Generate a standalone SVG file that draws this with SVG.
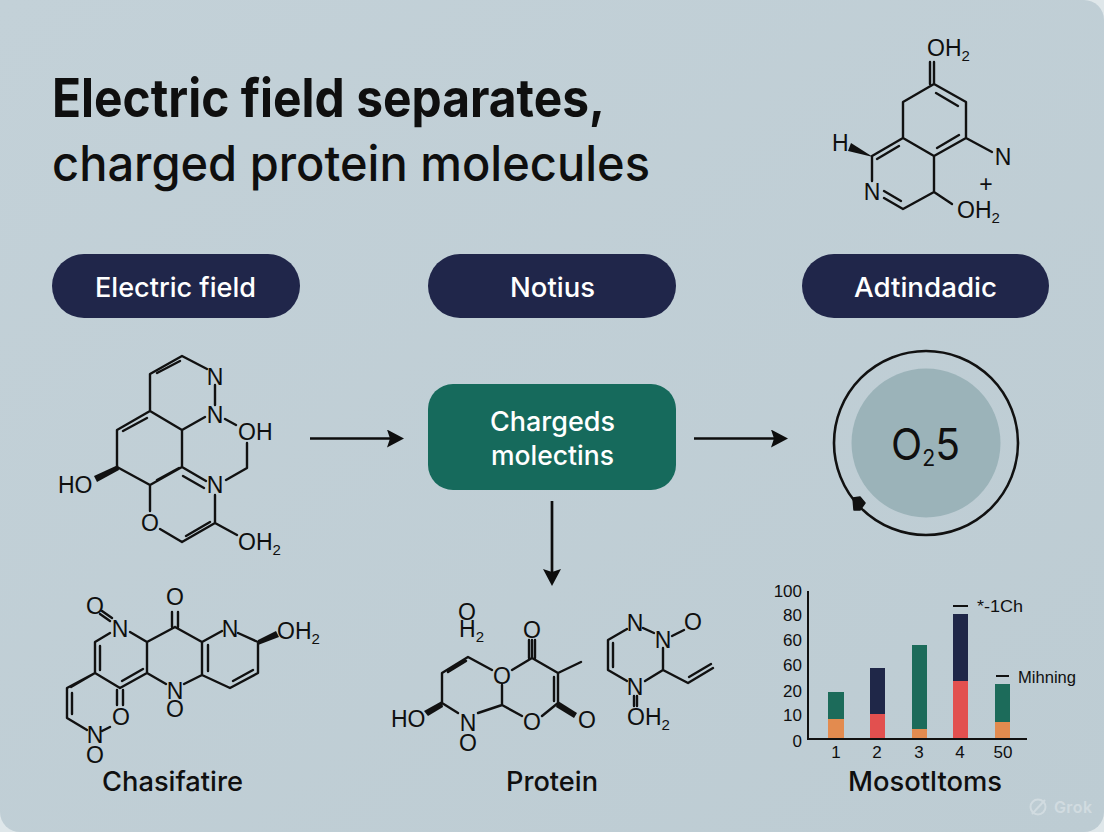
<svg xmlns="http://www.w3.org/2000/svg" width="1104" height="832" viewBox="0 0 1104 832">
<defs>
<linearGradient id="bg" x1="0" y1="0" x2="1" y2="1"><stop offset="0" stop-color="#c3d1d8"/><stop offset="1" stop-color="#bdccd3"/></linearGradient>
<marker id="arr" markerUnits="userSpaceOnUse" markerWidth="20" markerHeight="20" refX="13" refY="9" orient="auto"><path d="M0 0L17 9L0 18L3 9Z" fill="#0d0d0d"/></marker>
</defs>
<style>
text{font-family:Inter,"Liberation Sans",sans-serif;fill:#0f0f0f}
.b{fill:none;stroke:#111;stroke-width:2.4;stroke-linecap:round;stroke-linejoin:round}
.c{fill:none;stroke:#0d0d0d;stroke-width:2.7}
.a{font-family:"Liberation Sans",Arial,sans-serif;font-size:23px}
.m{text-anchor:middle}
.w{fill:#111;stroke:none}
.cap{font-size:27px;font-weight:450}
.pill{fill:#20264a}
.pt{fill:#fff;font-size:27px;font-weight:450}
.t{font-size:17px;font-family:"Liberation Sans",Arial,sans-serif}
.n{font-size:17px;font-family:"Liberation Sans",Arial,sans-serif;text-anchor:end}
.l{stroke:#111;stroke-width:2;fill:none}
</style>
<rect width="1104" height="832" fill="#dfe7ea"/>
<path d="M0 0H1084A20 20 0 0 1 1104 20V812A20 20 0 0 1 1084 832H20A20 20 0 0 1 0 812Z" fill="url(#bg)"/>
<g id="title"><text x="52" y="117" font-size="53" font-weight="700" textLength="553" lengthAdjust="spacingAndGlyphs">Electric field separates,</text><text x="52" y="181" font-size="49" font-weight="500" textLength="598" lengthAdjust="spacingAndGlyphs">charged protein molecules</text></g>
<g id="pill-electric"><rect class="pill" x="52" y="254" width="248" height="64" rx="32"/><text class="pt" x="95" y="297" textLength="161" lengthAdjust="spacingAndGlyphs">Electric field</text></g>
<g id="pill-notius"><rect class="pill" x="428" y="254" width="248" height="64" rx="32"/><text class="pt" x="510" y="297" textLength="85" lengthAdjust="spacingAndGlyphs">Notius</text></g>
<g id="pill-adtindadic"><rect class="pill" x="802" y="254" width="247" height="64" rx="32"/><text class="pt" x="854" y="297" textLength="143" lengthAdjust="spacingAndGlyphs">Adtindadic</text></g>
<g id="charged"><rect x="428" y="384" width="248" height="106" rx="25" fill="#166a5c"/><text class="pt" x="490" y="431" textLength="125" lengthAdjust="spacingAndGlyphs">Chargeds</text><text class="pt" x="491" y="465" textLength="123" lengthAdjust="spacingAndGlyphs">molectins</text></g>
<g id="connectors">
<path class="c" d="M310 438.500H400" marker-end="url(#arr)"/>
<path class="c" d="M694 438.500H784" marker-end="url(#arr)"/>
<path class="c" d="M552 501V582" marker-end="url(#arr)"/>
</g>
<g id="ring"><circle cx="926" cy="443" r="74.500" fill="#9bb3b9"/><circle cx="926" cy="443" r="92" fill="none" stroke="#111" stroke-width="2.600"/><path class="w" stroke-linejoin="round" d="M853 498L860 497L865 503L860 510L854 510Z" style="stroke:#111;stroke-width:1.500"/><text x="891" y="460" font-size="44" textLength="69" lengthAdjust="spacingAndGlyphs">O<tspan font-size="23" dy="6">2</tspan><tspan dy="-6">5</tspan></text></g>
<g id="mol-top">
<path class="b" d="M934 62V84M930 62V84M934 84L966 102V138L934 156V192L903 209L884 198M934 84L903 102V138L934 156M903 138L872 156V181M934 192L952 204M966 138L992 152M936 93L958 106M959 135L937 148M899 146L877 159M901 201L884 191"/>
<path class="w" d="M873 157L851 143L848 151Z"/>
<text class="a" x="927" y="56">OH<tspan font-size="15" dy="5">2</tspan></text>
<text class="a" x="832" y="151">H</text><text class="a m" x="872" y="200">N</text><text class="a m" x="1003" y="165">N</text><text class="a m" x="986" y="192" font-size="18">+</text>
<text class="a" x="957" y="218">OH<tspan font-size="15" dy="5">2</tspan></text>
</g>
<g id="mol-left">
<path class="b" d="M207 369L182 356L150 374V411L117 430V467L150 485L182 467V430L150 411M182 430L205 417M215 385V405M225 419L236 425M247 443V468L226 480M182 467L206 481M150 485V511M160 529L182 542L215 523V495M215 523L237 535M157 373L180 361M123 431L147 418M157 480L179 468M183 476L204 488M186 536L210 522"/>
<path class="w" d="M118 465L94 476L97 482L119 470Z"/>
<text class="a m" x="215" y="385">N</text><text class="a m" x="215" y="423">N</text><text class="a" x="238" y="440">OH</text><text class="a" x="58" y="493">HO</text><text class="a m" x="215" y="493">N</text><text class="a m" x="150" y="531">O</text>
<text class="a" x="238" y="550">OH<tspan font-size="15" dy="5">2</tspan></text>
</g>
<g id="mol-lower-left">
<path class="b" d="M102 611L112 618M100 614L110 621M172 612V627M178 612V627M175 627L147 642L130 632M110 633L95 642V673L67 688V718L87 730M100 646V670M147 642V673L120 688L95 673M147 673L166 684M184 684L202 675V642L175 627M202 642L222 631M238 633L258 642V673L230 688L202 675M208 645V671M233 681L253 670M143 669L122 681M95 673L71 687M72 693V714M117 690V705M123 690V705M110 727L102 731"/>
<path class="w" d="M258 640L276 631L279 637L258 645Z"/>
<text class="a m" x="95" y="614">O</text><text class="a m" x="120" y="637">N</text><text class="a m" x="175" y="605">O</text><text class="a m" x="230" y="637">N</text>
<text class="a" x="277" y="639">OH<tspan font-size="15" dy="5">2</tspan></text>
<text class="a m" x="175" y="699">N</text><text class="a m" x="175" y="717">O</text><text class="a m" x="121" y="725">O</text><text class="a m" x="95" y="743">N</text><text class="a m" x="95" y="763">O</text>
</g>
<g id="mol-center-a">
<path class="b" d="M492 670L468 657L442 673V703L458 713M478 713L502 705L522 716M502 685V705M542 716L558 703V673L532 658L512 670M532 640V658M529 640V658M535 640V658M558 673L581 662M554 677V701M448 672L466 661"/>
<path class="w" d="M442 701L424 711L428 716L443 707Z"/><path class="w" d="M558 701L577 713L574 718L556 707Z"/>
<text class="a m" x="467" y="620">O</text><text class="a" x="459" y="637">H<tspan font-size="15" dy="5">2</tspan></text><text class="a m" x="532" y="638">O</text><text class="a m" x="502" y="684">O</text><text class="a" x="391" y="727">HO</text><text class="a m" x="468" y="731">N</text><text class="a m" x="532" y="730">O</text><text class="a m" x="587" y="728">O</text><text class="a m" x="468" y="751">O</text>
</g>
<g id="mol-center-b">
<path class="b" d="M627 629L608 640V670L627 681M643 628L654 633M672 636L684 630M663 648V670L645 681M663 670L688 683L713 668M689 677L711 664M613 643V667M634 696V706M637 696V706"/>
<text class="a m" x="635" y="631">N</text><text class="a m" x="663" y="648">N</text><text class="a m" x="693" y="630">O</text><text class="a m" x="635" y="695">N</text>
<text class="a" x="627" y="725">OH<tspan font-size="15" dy="5">2</tspan></text>
</g>
<g id="chart">
<rect x="828" y="692" width="16" height="27" fill="#1c6b5a"/><rect x="828" y="719" width="16" height="20" fill="#e38b4f"/>
<rect x="870" y="668" width="15" height="46" fill="#1f2748"/><rect x="870" y="714" width="15" height="25" fill="#e2504f"/>
<rect x="912" y="645" width="15" height="84" fill="#1c6b5a"/><rect x="912" y="729" width="15" height="10" fill="#e38b4f"/>
<rect x="953" y="614" width="15" height="67" fill="#1f2748"/><rect x="953" y="681" width="15" height="58" fill="#e2504f"/>
<rect x="995" y="684" width="15" height="38" fill="#1c6b5a"/><rect x="995" y="722" width="15" height="17" fill="#e38b4f"/>
<path class="l" d="M808 591V739H1027"/>
<text class="n" x="802" y="597">100</text><text class="n" x="802" y="621">80</text><text class="n" x="802" y="646">60</text><text class="n" x="802" y="671">60</text><text class="n" x="802" y="697">20</text><text class="n" x="802" y="721">10</text><text class="n" x="802" y="747">0</text>
<g text-anchor="middle"><text class="t" x="836" y="758">1</text><text class="t" x="877" y="758">2</text><text class="t" x="919" y="758">3</text><text class="t" x="960" y="758">4</text><text class="t" x="1003" y="758">50</text></g>
<path class="l" d="M953 606H968M996 676H1009"/>
<text x="977" y="612" font-size="16" style="font-family:'Liberation Sans',sans-serif" textLength="46" lengthAdjust="spacingAndGlyphs">*-1Ch</text><text x="1018" y="683" font-size="16" style="font-family:'Liberation Sans',sans-serif" textLength="58" lengthAdjust="spacingAndGlyphs">Mihning</text>
</g>
<text class="cap" x="102" y="791" textLength="141" lengthAdjust="spacingAndGlyphs">Chasifatire</text>
<text class="cap" x="506" y="791" textLength="92" lengthAdjust="spacingAndGlyphs">Protein</text>
<text class="cap" x="848" y="791" textLength="154" lengthAdjust="spacingAndGlyphs">Mosotltoms</text>
<g id="watermark" opacity=".3"><circle cx="1038" cy="807" r="7.500" fill="none" stroke="#fff" stroke-width="2"/><path d="M1032 814L1045 800" stroke="#fff" stroke-width="2"/><text x="1054" y="813" font-size="16" font-weight="600" style="fill:#fff" textLength="38">Grok</text></g>
</svg>
